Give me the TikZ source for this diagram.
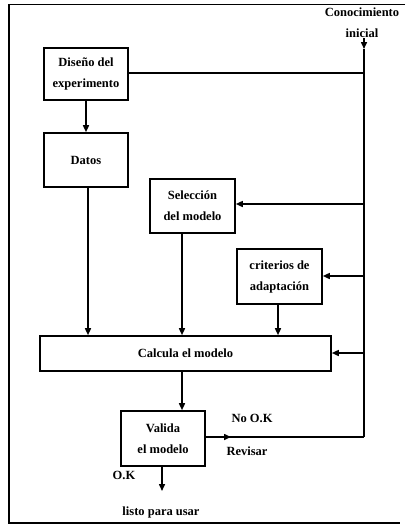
\documentclass[tikz,border=0pt]{standalone}
\usepackage{fontspec}
\setmainfont{Liberation Serif}
\usetikzlibrary{arrows.meta}
\begin{document}
\begin{tikzpicture}[x=1pt,y=-1pt,
  every node/.style={font=\fontsize{12.5}{21}\selectfont\bfseries},
  box/.style={draw,line width=1.6pt,rectangle,align=center,inner sep=0pt},
  ln/.style={line width=1.5pt},
  arr/.style={line width=1.5pt,-{Triangle[length=7pt,width=6pt]}},
  lbl/.style={inner sep=0pt}]
\useasboundingbox (0,0) rectangle (409,525);
% frame
\draw[line width=1.4pt] (405,4.5) -- (9,4.5) -- (9,523) -- (400,523);
% boxes
\node[box,minimum width=84pt,minimum height=52pt] (dis) at (86,74) {Diseño del\\experimento};
\node[box,minimum width=84pt,minimum height=54pt] (dat) at (86,160) {Datos};
\node[box,minimum width=85pt,minimum height=54pt] (sel) at (192.5,206) {Selección\\del modelo};
\node[box,minimum width=85pt,minimum height=55pt] (cri) at (279.5,276.5) {criterios de\\adaptación};
\node[box,minimum width=291pt,minimum height=35pt] (cal) at (185.5,353.5) {Calcula el modelo};
\node[box,minimum width=84pt,minimum height=55pt] (val) at (163,438.5) {Valida\\el modelo};
% labels
\node[lbl,align=center] (ci) at (362,23) {Conocimiento\\inicial};
\node[lbl] (nook) at (252,418) {No O.K};
\node[lbl] (rev) at (247,451) {Revisar};
\node[lbl] (ok) at (124,475) {O.K};
\node[lbl] (listo) at (161,512) {listo para usar};
% right trunk
\coordinate (top) at (364,38);
\coordinate (tri) at (364,49);
\coordinate (bot) at (364,437);
\coordinate (mid) at (231,437);
\coordinate (okend) at (162,491);
\draw[arr] (top) -- (tri);
\draw[ln] (tri) -- (bot);
\draw[ln] (dis.east |- 0,73) -- (364,73);
\draw[arr] (364,204) -- (sel.east |- 0,204);
\draw[arr] (364,276) -- (cri.east |- 0,276);
\draw[arr] (364,353) -- (cal.east |- 0,353);
\draw[arr] (val.east |- 0,437) -- (mid);
\draw[ln] (228,437) -- (bot);
% down arrows
\draw[arr] (dis.south) -- (dat.north);
\draw[arr] (dat.south -| 88,0) -- (cal.north -| 88,0);
\draw[arr] (sel.south -| 182,0) -- (cal.north -| 182,0);
\draw[arr] (cri.south -| 278,0) -- (cal.north -| 278,0);
\draw[arr] (cal.south -| 182,0) -- (val.north -| 182,0);
\draw[arr] (val.south -| 162,0) -- (okend);
\end{tikzpicture}
\end{document}
